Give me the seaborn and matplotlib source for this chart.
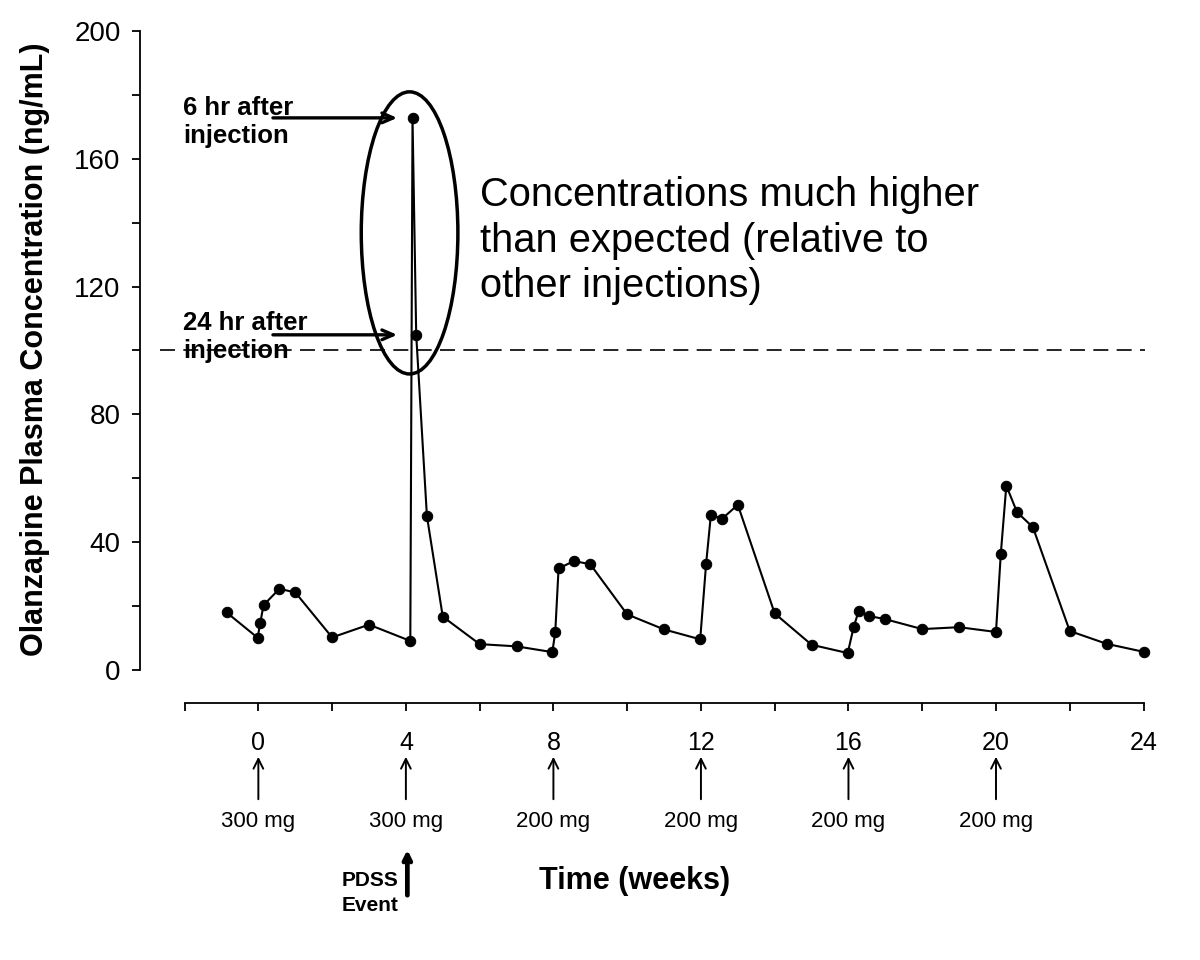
import seaborn as sns
import pandas as pd
import numpy as np
import matplotlib.pyplot as plt
import matplotlib.transforms as mtransforms
from matplotlib.patches import Ellipse

# data
weeks = [-0.86, -0.02, 0.05, 0.14, 0.57, 1.0, 2.0, 3.0,
         4.12, 4.18, 4.28, 4.57, 5.0, 6.0, 7.0,
         7.97, 8.05, 8.14, 8.56, 9.0, 10.0, 11.0,
         11.98, 12.14, 12.27, 12.57, 13.0, 14.0, 15.0,
         15.98, 16.14, 16.28, 16.56, 17.0, 18.0, 19.0,
         20.0, 20.13, 20.28, 20.57, 21.0, 22.0, 23.0, 24.0]
conc = [18.0, 10.1, 14.6, 20.3, 25.4, 24.3, 10.2, 14.2,
        9.1, 172.8, 104.9, 48.2, 16.7, 8.1, 7.4,
        5.6, 11.8, 31.8, 34.1, 33.1, 17.4, 12.7,
        9.6, 33.2, 48.6, 47.3, 51.7, 17.7, 7.9,
        5.3, 13.4, 18.6, 16.9, 15.9, 12.8, 13.4,
        11.9, 36.3, 57.7, 49.4, 44.7, 12.2, 8.2, 5.7]
dose_weeks = [0, 4, 8, 12, 16, 20]
dose_labels = ["300 mg", "300 mg", "200 mg", "200 mg", "200 mg", "200 mg"]
threshold = 100
event_week = 4.04

df = pd.DataFrame({"week": weeks, "conc": conc})

sns.set_style("ticks")
plt.rcParams['font.family'] = ['Liberation Sans', 'DejaVu Sans']
for k in ['text.color', 'axes.labelcolor', 'xtick.color', 'ytick.color', 'axes.edgecolor']:
    plt.rcParams[k] = 'black'

fig = plt.figure(figsize=(12, 9.6), dpi=100)
ax = fig.add_axes([0.1167, 0.2677, 0.8417, 0.7063])

sns.lineplot(data=df, x="week", y="conc", sort=False, estimator=None,
             color="black", lw=1.5, marker="o", markersize=7.5,
             markeredgecolor="black", ax=ax)

# dashed reference line
ax.hlines(threshold, -2.66, 24.05, colors="black", linestyles=(0, (9, 5)), lw=1.2)

# circle round the two high points
ax.add_patch(Ellipse((4.1, 136.8), 2.62, 88.3, fill=False, ec="black", lw=2.5, zorder=5))

ax.set_xlim(-3.208, 24.178)
ax.set_ylim(-10.33, 201.88)
sns.despine(ax=ax)
ax.spines['left'].set_bounds(0, 200)
ax.spines['bottom'].set_bounds(-2, 24)
for s in ['left', 'bottom']:
    ax.spines[s].set_linewidth(1.3)

ax.set_xticks(np.arange(0, 25, 4))
ax.set_xticks(np.arange(-2, 24, 4), minor=True)
ax.set_yticks(np.arange(0, 201, 40))
ax.set_yticks(np.arange(20, 200, 40), minor=True)
ax.tick_params(axis='x', which='both', length=6, width=1.3, pad=14, labelsize=18)
ax.tick_params(axis='y', which='both', length=6, width=1.3, pad=8, labelsize=20)
ax.set_xlabel("")
ax.set_ylabel("Olanzapine Plasma Concentration (ng/mL)", fontsize=22, fontweight='bold')
ax.yaxis.set_label_coords(-0.089, 0.522)

# annotations of the first two points after the 4 week injection
ax.text(-2.04, 171.6, "6 hr after\ninjection", fontsize=18.5, fontweight='bold',
        ha='left', va='center')
ax.annotate("", xy=(3.84, 172.8), xytext=(0.32, 172.8),
            arrowprops=dict(arrowstyle="->,head_length=0.8,head_width=0.35", lw=2.4, color="black"))
ax.text(-2.04, 104.3, "24 hr after\ninjection", fontsize=18.5, fontweight='bold',
        ha='left', va='center')
ax.annotate("", xy=(3.84, 104.9), xytext=(0.32, 104.9),
            arrowprops=dict(arrowstyle="->,head_length=0.8,head_width=0.35", lw=2.4, color="black"))

ax.text(6.0, 134.3, "Concentrations much higher\nthan expected (relative to\nother injections)",
        fontsize=28.7, ha='left', va='center', linespacing=1.25)

# below the axis: injections
trans = mtransforms.blended_transform_factory(ax.transData, fig.transFigure)
for wk, lab in zip(dose_weeks, dose_labels):
    ax.annotate("", xy=(wk, 1 - 754 / 960), xytext=(wk, 1 - 802 / 960),
                xycoords=trans, textcoords=trans,
                arrowprops=dict(arrowstyle="->,head_length=0.7,head_width=0.35", lw=1.4, color="black"),
                annotation_clip=False)
    ax.text(wk, 1 - 821 / 960, lab, transform=trans, ha='center', va='center', fontsize=16)

ax.annotate("", xy=(event_week, 1 - 847 / 960), xytext=(event_week, 1 - 898 / 960),
            xycoords=trans, textcoords=trans,
            arrowprops=dict(arrowstyle="->,head_length=0.5,head_width=0.25", lw=3.4, color="black"),
            annotation_clip=False)
ax.text(2.25, 1 - 893 / 960, "PDSS\nEvent", transform=trans, ha='left', va='center',
        fontsize=15, fontweight='bold', linespacing=1.4)
ax.text(10.19, 1 - 881 / 960, "Time (weeks)", transform=trans, ha='center', va='center',
        fontsize=22, fontweight='bold')

fig.savefig("out.png", dpi=100)
plt.close(fig)
